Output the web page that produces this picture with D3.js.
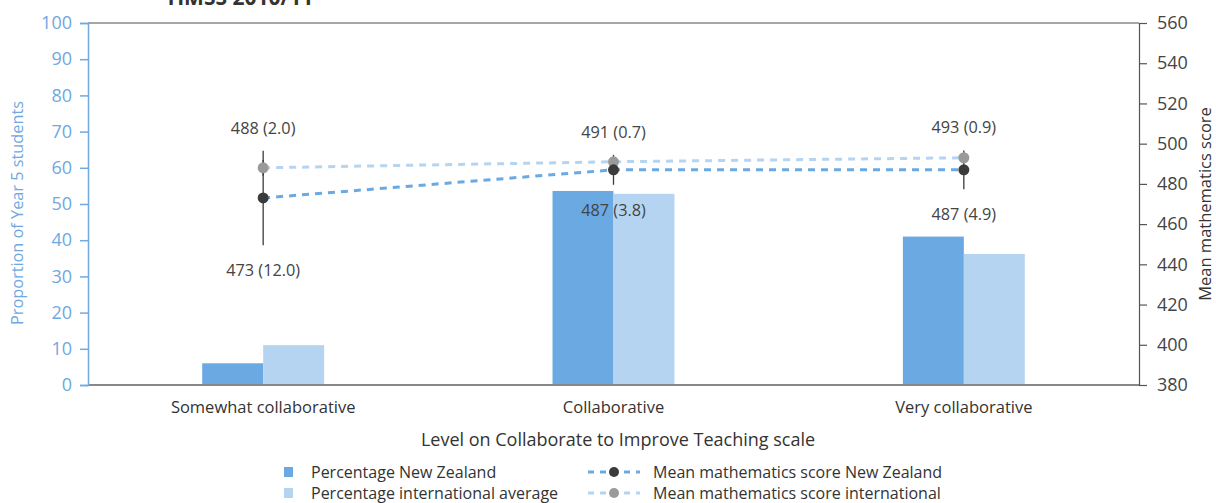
<!DOCTYPE html>
<html><head><meta charset="utf-8">
<script src="https://cdn.jsdelivr.net/npm/d3@7"></script>
<style>body{margin:0;background:#fff;}svg text{font-family:"Open Sans",sans-serif;}</style>
</head><body>
<svg id="c" width="1216" height="503"></svg>
<script>
const categories = ["Somewhat collaborative", "Collaborative", "Very collaborative"];
const pctNZ = [6, 53.6, 41];
const pctIntl = [11, 52.8, 36.2];
const scoreNZ = [473, 487, 487];
const seNZ = [12.0, 3.8, 4.9];
const scoreIntl = [488, 491, 493];
const seIntl = [2.0, 0.7, 0.9];
const leftTicks = [0,10,20,30,40,50,60,70,80,90,100];
const rightTicks = [380,400,420,440,460,480,500,520,540,560];

const C_NZ = "#6aa9e2", C_INT = "#b5d4f1", AXL = "#6fa9e0", DARK = "#3b3b3b";
const svg = d3.select("#c");
const L = 88, R = 1139, T = 23, B = 385;

const x = d3.scaleBand().domain(categories).range([L, R]).paddingInner(0.652).paddingOuter(0.326);
const yP = d3.scaleLinear().domain([0, 100]).range([B, T]);
const yS = d3.scaleLinear().domain([380, 560]).range([B, T]);

// title (cut off at top, as in the reference)
svg.append("text").attr("x", 165).attr("y", 5).attr("font-size", 21).attr("font-weight", "bold")
  .attr("fill", "#333").text("TIMSS 2010/11");

// top frame line
svg.append("line").attr("x1", L).attr("x2", R).attr("y1", T).attr("y2", T).attr("stroke", "#888").attr("stroke-width", 1.5);

// bars
const bw = x.bandwidth() / 2;
categories.forEach((c, i) => {
  svg.append("rect").attr("x", x(c)).attr("width", bw).attr("y", yP(pctNZ[i])).attr("height", yP(0) - yP(pctNZ[i])).attr("fill", C_NZ);
  svg.append("rect").attr("x", x(c) + bw).attr("width", bw).attr("y", yP(pctIntl[i])).attr("height", yP(0) - yP(pctIntl[i])).attr("fill", C_INT);
});

// baseline
svg.append("line").attr("x1", L).attr("x2", R).attr("y1", B).attr("y2", B).attr("stroke", "#888").attr("stroke-width", 2);

// left axis
const la = svg.append("g").attr("transform", `translate(${L},0)`).call(d3.axisLeft(yP).tickValues(leftTicks).tickSize(8).tickPadding(8));
la.select(".domain").attr("stroke", AXL).attr("stroke-width", 1.5);
la.selectAll(".tick line").attr("stroke", AXL).attr("stroke-width", 1.5);
la.selectAll(".tick text").attr("fill", AXL).attr("font-size", 18).attr("font-family", "Open Sans");

// right axis
const ra = svg.append("g").attr("transform", `translate(${R},0)`).call(d3.axisRight(yS).tickValues(rightTicks).tickSize(8).tickPadding(10));
ra.select(".domain").attr("stroke", "#555").attr("stroke-width", 1.2);
ra.selectAll(".tick line").attr("stroke", "#555").attr("stroke-width", 1.2);
ra.selectAll(".tick text").attr("fill", "#444").attr("font-size", 18).attr("font-family", "Open Sans");

// x category labels
categories.forEach(c => {
  svg.append("text").attr("x", x(c) + x.bandwidth() / 2).attr("y", 413).attr("text-anchor", "middle")
    .attr("font-size", 16.5).attr("fill", "#333").text(c);
});

// axis titles
svg.append("text").attr("x", 618).attr("y", 446).attr("text-anchor", "middle").attr("font-size", 18).attr("fill", "#333")
  .text("Level on Collaborate to Improve Teaching scale");
svg.append("text").attr("transform", `translate(23,213) rotate(-90)`).attr("text-anchor", "middle").attr("font-size", 16.3).attr("fill", AXL)
  .text("Proportion of Year 5 students");
svg.append("text").attr("transform", `translate(1211,204) rotate(-90)`).attr("text-anchor", "middle").attr("font-size", 16.5).attr("fill", "#333")
  .text("Mean mathematics score");

// lines
const cx = c => x(c) + x.bandwidth() / 2;
const scoreLine = d3.line().x((d, i) => cx(categories[i])).y(d => yS(d));
svg.append("path").attr("d", scoreLine(scoreIntl)).attr("fill", "none").attr("stroke", C_INT).attr("stroke-width", 3).attr("stroke-dasharray", "7,6");
svg.append("path").attr("d", scoreLine(scoreNZ)).attr("fill", "none").attr("stroke", C_NZ).attr("stroke-width", 3).attr("stroke-dasharray", "7,6");

// error bars
categories.forEach((c, i) => {
  [[scoreIntl[i], seIntl[i]], [scoreNZ[i], seNZ[i]]].forEach(([v, s]) => {
    svg.append("line").attr("x1", cx(c)).attr("x2", cx(c)).attr("y1", yS(v + 1.96 * s)).attr("y2", yS(v - 1.96 * s))
      .attr("stroke", DARK).attr("stroke-width", 1.3);
  });
});
// points
categories.forEach((c, i) => {
  svg.append("circle").attr("cx", cx(c)).attr("cy", yS(scoreIntl[i])).attr("r", 5.5).attr("fill", "#9a9a9a");
  svg.append("circle").attr("cx", cx(c)).attr("cy", yS(scoreNZ[i])).attr("r", 5.5).attr("fill", DARK);
});
// labels
categories.forEach((c, i) => {
  const top = Math.min(yS(scoreIntl[i] + 1.96 * seIntl[i]), yS(scoreNZ[i] + 1.96 * seNZ[i]));
  const bot = Math.max(yS(scoreIntl[i] - 1.96 * seIntl[i]), yS(scoreNZ[i] - 1.96 * seNZ[i]));
  svg.append("text").attr("x", cx(c)).attr("y", top - 17).attr("text-anchor", "middle").attr("font-size", 16.3).attr("fill", "#444")
    .text(`${scoreIntl[i]} (${seIntl[i].toFixed(1)})`);
  svg.append("text").attr("x", cx(c)).attr("y", bot + 31).attr("text-anchor", "middle").attr("font-size", 16.3).attr("fill", "#444")
    .text(`${scoreNZ[i]} (${seNZ[i].toFixed(1)})`);
});

// legend
const lg = svg.append("g");
[["Percentage New Zealand", C_NZ, 472], ["Percentage international average", C_INT, 493]].forEach(([t, col, y]) => {
  lg.append("rect").attr("x", 284).attr("y", y - 5).attr("width", 9).attr("height", 10).attr("fill", col);
  lg.append("text").attr("x", 311).attr("y", y + 6).attr("font-size", 16).attr("fill", "#333").text(t);
});
[["Mean mathematics score New Zealand", C_NZ, DARK, 472], ["Mean mathematics score international", C_INT, "#9a9a9a", 493]].forEach(([t, col, dot, y]) => {
  lg.append("line").attr("x1", 588).attr("x2", 640).attr("y1", y).attr("y2", y).attr("stroke", col).attr("stroke-width", 3).attr("stroke-dasharray", "6,6");
  lg.append("circle").attr("cx", 614).attr("cy", y).attr("r", 5).attr("fill", dot);
  lg.append("text").attr("x", 653).attr("y", y + 6).attr("font-size", 16).attr("fill", "#333").text(t);
});
</script>
</body></html>
